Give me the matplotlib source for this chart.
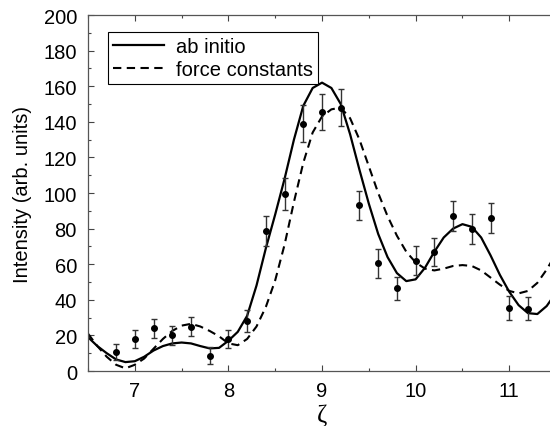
import matplotlib.pyplot as plt
from matplotlib.ticker import MultipleLocator

# measured points (zeta, intensity, error)
zeta_pts = [6.8, 7.0, 7.2, 7.4, 7.6, 7.8, 8.0, 8.2, 8.4, 8.6, 8.8, 9.0,
            9.2, 9.4, 9.6, 9.8, 10.0, 10.2, 10.4, 10.6, 10.8, 11.0, 11.2]
intensity_pts = [10.5, 18, 24, 20, 25, 8.6, 18, 28, 78.5, 99.5, 139, 145.5,
                 148, 93, 60.5, 46.5, 62, 67, 87, 80, 86, 35.5, 35]
intensity_err = [4.5, 5.2, 5.2, 5.2, 5.2, 4.7, 5, 6, 8.4, 8.9, 10.3, 10.3,
                 10.3, 8.2, 8, 6.4, 8, 7.8, 8.3, 8.4, 8.2, 6.6, 6.4]

zeta_curve = [6.5, 6.6, 6.7, 6.8, 6.9, 7.0, 7.1, 7.2, 7.3, 7.4, 7.5, 7.6, 7.7,
              7.8, 7.9, 8.0, 8.1, 8.2, 8.3, 8.4, 8.5, 8.6, 8.7, 8.8, 8.9, 9.0,
              9.1, 9.2, 9.3, 9.4, 9.5, 9.6, 9.7, 9.8, 9.9, 10.0, 10.1, 10.2,
              10.3, 10.4, 10.5, 10.6, 10.7, 10.8, 10.9, 11.0, 11.1, 11.2,
              11.3, 11.4, 11.5]
ab_initio = [19, 14, 10, 6.5, 5, 5.5, 8, 11.5, 14, 15.5, 16, 15.5, 14,
             12.7, 13, 17, 22, 31, 48, 69, 88, 108, 130, 149, 159, 162,
             159, 150, 133, 113, 94, 77, 64, 55, 50.5, 51.5, 58, 67,
             75, 80, 82.5, 81, 75, 65, 54, 44.5, 37, 32.5,
             32, 36.5, 44]
force_const = [21, 14, 8, 3.5, 1.5, 3.5, 7, 12.5, 18, 22.5, 25.5, 26.5, 25,
               22.5, 19.5, 15.5, 14.5, 18, 25, 36, 51, 71, 95, 117, 134, 143,
               147, 148, 142, 130, 115, 100, 87, 76, 67, 61, 57.5, 56.5,
               57.5, 59, 59.5, 59, 56.5, 52.5, 48.5, 45, 43.6, 45,
               49.5, 57, 66]

plt.rcParams['font.family'] = ['Liberation Sans', 'DejaVu Sans']

fig = plt.figure(figsize=(5.5, 4.27), dpi=100)
ax = fig.add_axes([0.16, 0.1288, 0.851, 0.8337])

ax.plot(zeta_curve, ab_initio, color='black', lw=1.6, label='ab initio')
ax.plot(zeta_curve, force_const, color='black', lw=1.5, dashes=(4, 2.6),
        label='force constants')
ax.errorbar(zeta_pts, intensity_pts, yerr=intensity_err, fmt='o', color='black',
            ms=4, ecolor='#333333', elinewidth=1, capsize=2.5, capthick=1)

ax.set_xlim(6.5, 11.5)
ax.set_ylim(0, 200)
ax.xaxis.set_major_locator(MultipleLocator(1))
ax.xaxis.set_minor_locator(MultipleLocator(0.5))
ax.yaxis.set_major_locator(MultipleLocator(20))
ax.yaxis.set_minor_locator(MultipleLocator(10))
ax.tick_params(which='both', direction='in', top=True, right=True,
               labelsize=14.5, color='#444444', width=0.8)
ax.tick_params(which='major', length=4)
ax.tick_params(axis='y', which='major', pad=8)
ax.tick_params(axis='x', which='major', pad=7)
ax.tick_params(which='minor', length=2.5)
for s in ax.spines.values():
    s.set_color('#555555')
    s.set_linewidth(0.9)

ax.set_ylabel('Intensity (arb. units)', fontsize=14.5, labelpad=8)
ax.set_xlabel('ζ', fontsize=18, family=['Liberation Serif', 'DejaVu Serif'],
              labelpad=3)

leg = ax.legend(loc='upper left', bbox_to_anchor=(0.043, 0.952), borderaxespad=0,
                fontsize=14.5, frameon=True, fancybox=False, framealpha=1,
                handlelength=2.5, handletextpad=0.6, borderpad=0.25,
                labelspacing=0.2)
leg.get_frame().set_edgecolor('black')
leg.get_frame().set_linewidth(0.8)

plt.savefig('out.png', dpi=100)
